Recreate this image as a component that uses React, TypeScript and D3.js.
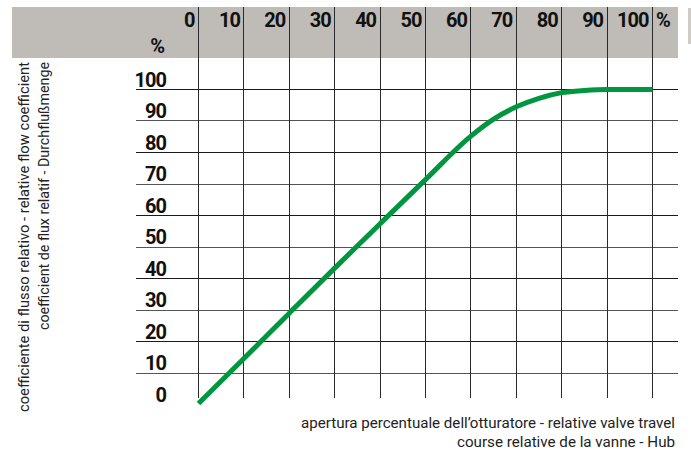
import React, { useRef, useEffect } from 'react';
import { select, scaleLinear, line, curveMonotoneX } from 'd3';

const xTicks = [0, 10, 20, 30, 40, 50, 60, 70, 80, 90, 100];
const yTicks = [0, 10, 20, 30, 40, 50, 60, 70, 80, 90, 100];

// valve travel (%) and relative flow (%)
const travel = [0, 10, 20, 30, 40, 50, 60, 65, 70, 75, 80, 85, 90, 100];
const flow = [0.3, 14.6, 29.0, 43.3, 57.4, 71.4, 85.2, 90.6, 94.5, 97.2, 99, 99.7, 100, 100];

const yTitle = [
  'coefficiente di flusso relativo - relative flow coefficient',
  'coefficient de flux relatif - Durchflußmenge',
];
const xTitle = [
  'apertura percentuale dell\u2019otturatore - relative valve travel',
  'course relative de la vanne - Hub',
];

const dims = {
  width: 691,
  height: 456,
  bandLeft: 12,
  bandRight: 678,
  bandTop: 7,
  bandBottom: 58,
  gridLeft: 136,
  gridBottom: 398,
};

const tickFont = 'Roboto, "Open Sans", sans-serif';

const App = () => {
  const svgRef = useRef(null);

  useEffect(() => {
    const svg = select(svgRef.current);
    svg.selectAll('*').remove();

    const x = scaleLinear().domain([0, 100]).range([198.5, 652.5]);
    const y = scaleLinear().domain([0, 100]).range([404.5, 89.5]);
    const crisp = (v: number) => Math.round(v - 0.5) + 0.5;

    // grey header band
    svg
      .append('rect')
      .attr('x', dims.bandLeft)
      .attr('y', dims.bandTop)
      .attr('width', dims.bandRight - dims.bandLeft)
      .attr('height', dims.bandBottom - dims.bandTop)
      .attr('fill', '#bfbbb6');
    svg
      .append('rect')
      .attr('x', 688)
      .attr('y', 8)
      .attr('width', 3)
      .attr('height', 36)
      .attr('fill', '#cfccc8');

    // horizontal grid (values 10..100)
    svg
      .append('g')
      .selectAll('line')
      .data(yTicks.filter((d) => d > 0))
      .join('line')
      .attr('x1', dims.gridLeft)
      .attr('x2', dims.bandRight)
      .attr('y1', (d) => crisp(y(d)))
      .attr('y2', (d) => crisp(y(d)))
      .attr('stroke', (d) => (d % 20 === 0 ? '#1a1a1a' : '#555'))
      .attr('stroke-width', 1);

    // vertical grid
    svg
      .append('g')
      .selectAll('line')
      .data(xTicks)
      .join('line')
      .attr('x1', (d) => crisp(x(d)))
      .attr('x2', (d) => crisp(x(d)))
      .attr('y1', dims.bandTop)
      .attr('y2', dims.gridBottom)
      .attr('stroke', '#2a2a2a')
      .attr('stroke-width', 1);

    // top x tick labels
    svg
      .append('g')
      .selectAll('text')
      .data(xTicks)
      .join('text')
      .attr('x', (d) => x(d) - 4)
      .attr('y', 27)
      .attr('text-anchor', 'end')
      .attr('font-family', tickFont)
      .attr('font-weight', 'bold')
      .attr('font-size', 20)
      .attr('letter-spacing', -1)
      .attr('fill', '#111')
      .text((d) => d);

    svg
      .append('text')
      .attr('x', 656)
      .attr('y', 27)
      .attr('font-family', tickFont)
      .attr('font-weight', 'bold')
      .attr('font-size', 20)
      .attr('fill', '#111')
      .text('%');

    svg
      .append('text')
      .attr('x', 165)
      .attr('y', 53)
      .attr('text-anchor', 'end')
      .attr('font-family', tickFont)
      .attr('font-weight', 'bold')
      .attr('font-size', 20)
      .attr('fill', '#111')
      .text('%');

    // y tick labels
    svg
      .append('g')
      .selectAll('text')
      .data(yTicks)
      .join('text')
      .attr('x', 166)
      .attr('y', (d) => y(d) - 3)
      .attr('text-anchor', 'end')
      .attr('font-family', tickFont)
      .attr('font-weight', 'bold')
      .attr('font-size', 20)
      .attr('letter-spacing', -1)
      .attr('fill', '#111')
      .text((d) => d);

    // flow curve
    const curve = line<number>()
      .x((_, i) => x(travel[i]))
      .y((d) => y(d))
      .curve(curveMonotoneX);

    svg
      .append('path')
      .datum(flow)
      .attr('d', curve)
      .attr('fill', 'none')
      .attr('stroke', '#009640')
      .attr('stroke-width', 5);

    // y axis title (rotated)
    const yt = svg.append('g').attr('font-family', tickFont).attr('font-size', 14).attr('fill', '#222');
    yt.append('text')
      .attr('transform', 'translate(29,62) rotate(-90)')
      .attr('text-anchor', 'end')
      .attr('textLength', 350)
      .attr('lengthAdjust', 'spacingAndGlyphs')
      .text(yTitle[0]);
    yt.append('text')
      .attr('transform', 'translate(49,62) rotate(-90)')
      .attr('text-anchor', 'end')
      .attr('textLength', 268)
      .attr('lengthAdjust', 'spacingAndGlyphs')
      .text(yTitle[1]);

    // x axis title
    const xt = svg.append('g').attr('font-family', tickFont).attr('font-size', 14).attr('fill', '#222');
    xt.append('text')
      .attr('x', 301)
      .attr('y', 428)
      .attr('textLength', 374)
      .attr('lengthAdjust', 'spacingAndGlyphs')
      .text(xTitle[0]);
    xt.append('text')
      .attr('x', 457)
      .attr('y', 447)
      .attr('textLength', 218)
      .attr('lengthAdjust', 'spacingAndGlyphs')
      .text(xTitle[1]);
  }, []);

  return (
    <svg
      ref={svgRef}
      width={dims.width}
      height={dims.height}
      style={{ position: 'absolute', left: 0, top: 0, background: '#fff' }}
    ></svg>
  );
};

export default App;
